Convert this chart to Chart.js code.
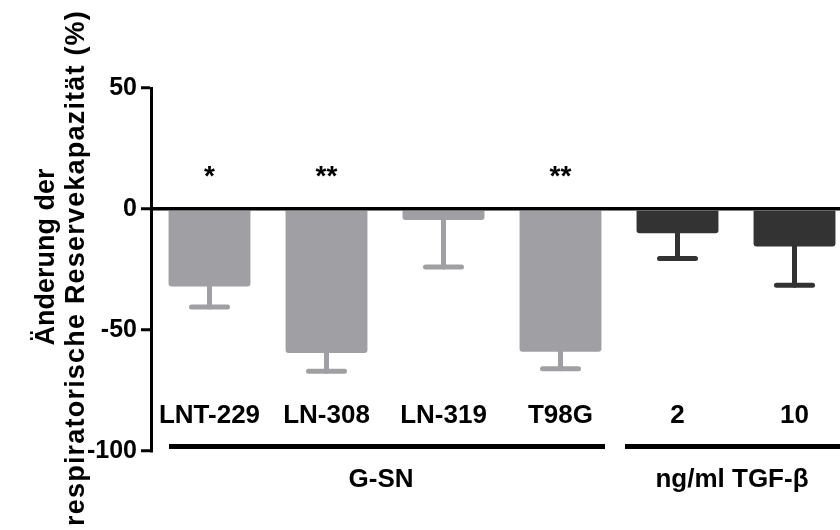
<!DOCTYPE html>
<html>
<head>
<meta charset="utf-8">
<script src="https://cdn.jsdelivr.net/npm/chart.js@4/dist/chart.umd.min.js"></script>
<style>
  html, body { margin: 0; padding: 0; background: #fff; overflow: hidden; }
  #wrap { width: 840px; height: 530px; overflow: hidden; }
</style>
</head>
<body>
<div id="wrap"><canvas id="bar" width="853" height="530"></canvas></div>
<script>
const categories = ['LNT-229', 'LN-308', 'LN-319', 'T98G', '2', '10'];
const changeValues = [-32, -59.5, -4.5, -59, -10, -15.5];
const errorValues = [8.5, 7.5, 19.5, 7, 10.5, 16];
const significance = ['*', '**', '', '**', '', ''];
const barColors = ['#a09fa4', '#a09fa4', '#a09fa4', '#a09fa4', '#333333', '#333333'];
const groups = [
  { label: 'G-SN', from: 0, to: 3 },
  { label: 'ng/ml TGF-\u03b2', from: 4, to: 5 }
];
const yTicks = [50, 0, -50, -100];
const yTitle = ['\u00c4nderung der', 'respiratorische Reservekapazit\u00e4t (%)'];

const FONT = '"Liberation Sans", Arial, sans-serif';

// one-sided (downward) error bars in the bar colour
const errorBars = {
  id: 'errorBars',
  afterDatasetsDraw(chart) {
    const ctx = chart.ctx;
    const y = chart.scales.y;
    chart.getDatasetMeta(0).data.forEach((bar, i) => {
      const yEnd = y.getPixelForValue(changeValues[i] - errorValues[i]);
      ctx.save();
      ctx.strokeStyle = barColors[i];
      ctx.lineWidth = 5;
      ctx.lineCap = 'round';
      ctx.beginPath();
      ctx.moveTo(bar.x, bar.y);
      ctx.lineTo(bar.x, yEnd);
      ctx.stroke();
      ctx.beginPath();
      ctx.moveTo(bar.x - 18, yEnd);
      ctx.lineTo(bar.x + 18, yEnd);
      ctx.stroke();
      ctx.restore();
    });
  }
};

// stars, category names, group brackets and the rotated axis title
const labels = {
  id: 'labels',
  afterDraw(chart) {
    const ctx = chart.ctx;
    const x = chart.scales.x;
    const area = chart.chartArea;
    const cw = (area.right - area.left) / categories.length;
    ctx.save();
    ctx.fillStyle = '#000';
    ctx.textAlign = 'center';
    ctx.textBaseline = 'alphabetic';

    ctx.font = 'bold 28px ' + FONT;
    significance.forEach((s, i) => {
      if (s) ctx.fillText(s, x.getPixelForValue(i), 185);
    });

    ctx.font = 'bold 26px ' + FONT;
    categories.forEach((c, i) => ctx.fillText(c, x.getPixelForValue(i), 423));

    groups.forEach((g, k) => {
      const x1 = x.getPixelForValue(g.from) - cw / 2 + (k === 0 ? 18 : 6);
      const x2 = x.getPixelForValue(g.to) + cw / 2 - (k === 0 ? 14 : 6);
      ctx.fillRect(x1, 444, x2 - x1, 5);
      const mid = (x.getPixelForValue(g.from) + x.getPixelForValue(g.to)) / 2;
      ctx.fillText(g.label, mid - 4, 487);
    });

    ctx.font = 'bold 27px ' + FONT;
    ctx.textBaseline = 'middle';
    ctx.save();
    ctx.translate(47, 257);
    ctx.rotate(-Math.PI / 2);
    ctx.fillText(yTitle[0], 0, 0);
    ctx.restore();
    ctx.save();
    ctx.translate(77, 10);
    ctx.rotate(-Math.PI / 2);
    ctx.textAlign = 'right';
    ctx.letterSpacing = '1.2px';
    ctx.fillText(yTitle[1], 0, 0);
    ctx.restore();
    ctx.restore();
  }
};

const ctx = document.getElementById('bar').getContext('2d');
new Chart(ctx, {
  type: 'bar',
  data: {
    labels: categories,
    datasets: [{
      data: changeValues,
      backgroundColor: barColors,
      borderRadius: 3,
      barPercentage: 0.7,
      categoryPercentage: 1
    }]
  },
  options: {
    responsive: false,
    animation: false,
    devicePixelRatio: 1,
    layout: { padding: { top: 88, bottom: 79, left: 0, right: 0 } },
    plugins: { legend: { display: false }, tooltip: { enabled: false } },
    scales: {
      x: { display: false },
      y: {
        min: -100,
        max: 50,
        afterBuildTicks(scale) { scale.ticks = yTicks.map(v => ({ value: v })); },
        afterFit(scale) { scale.width = 151; },
        ticks: {
          color: '#000',
          padding: 4,
          font: { family: FONT, size: 25, weight: 'bold' }
        },
        grid: {
          z: 1,
          lineWidth: 3.5,
          tickLength: 10,
          tickWidth: 3,
          tickColor: '#000',
          color: c => (c.tick && c.tick.value === 0 ? '#000' : 'rgba(0,0,0,0)')
        },
        border: { display: true, color: '#000', width: 3, z: 1 }
      }
    }
  },
  plugins: [errorBars, labels]
});
</script>
</body>
</html>
